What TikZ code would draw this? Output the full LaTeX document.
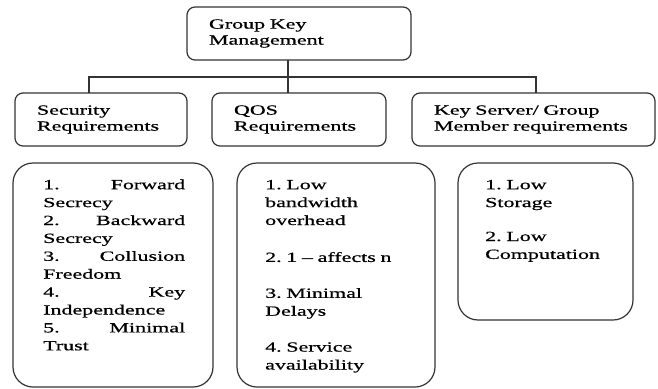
\documentclass[tikz,border=0pt]{standalone}
\usepackage{fontspec}
\setmainfont{Liberation Serif}[FakeStretch=1.57,FakeBold=0.7]
\frenchspacing
\begin{document}
\begin{tikzpicture}[x=1pt,y=-1pt,
	line/.style={draw=black!80,line width=1.2pt},
	head/.style={line,rounded corners=8pt,anchor=north west,outer sep=0pt,inner xsep=22pt,inner ysep=0pt,
		align=left,minimum height=53pt,font=\fontsize{14}{16}\selectfont},
	list/.style={line,rounded corners=20pt,anchor=north west,outer sep=0pt},
	items/.style={anchor=north west,inner sep=0pt,align=left,font=\fontsize{14}{17.9}\selectfont,
		execute at begin node=\rule{0pt}{10pt}}]
		\useasboundingbox (0,0) rectangle (658,388);
		% top level
		\node[head,text width=180pt] (gkm) at (187,7) {Group Key\\Management};
		% second level
		\node[head,text width=128pt] (sec) at (15,93) {Security\\Requirements};
		\node[head,text width=130pt] (qos) at (212,93) {QOS\\Requirements};
		\node[head,text width=199pt] (ksg) at (412,93) {Key Server/ Group\\Member requirements};
		% lists
		\node[list,minimum width=200pt,minimum height=224pt] (secL) at (13,163) {};
		\node[list,minimum width=198pt,minimum height=224pt] (qosL) at (237,163) {};
		\node[list,minimum width=175pt,minimum height=157pt] (ksgL) at (458,163) {};
		\node[items,text width=142pt] (secT) at (43,179) {1.\hfill Forward\\Secrecy\\2.\hfill Backward\\Secrecy\\
			3.\hfill Collusion\\Freedom\\4.\hfill Key\\Independence\\5.\hfill Minimal\\Trust};
		\node[items,text width=150pt] (qosT) at (265,179) {1. Low\\bandwidth\\overhead\\[19pt]
			2. 1 -- affects n\\[18pt]3. Minimal\\Delays\\[18pt]4. Service\\availability};
		\node[items,text width=130pt] (ksgT) at (485,179) {1. Low\\Storage\\[16pt]2. Low\\Computation};
		% connectors
		\coordinate (stem) at (288,60);
		\coordinate (busL) at (89,77);
		\coordinate (busR) at (536,77);
		\draw[line] (stem) -- (stem |- qos.north);
		\draw[line] (busL |- sec.north) -- (busL) -- (busR) -- (busR |- ksg.north);
	\end{tikzpicture}
\end{document}
